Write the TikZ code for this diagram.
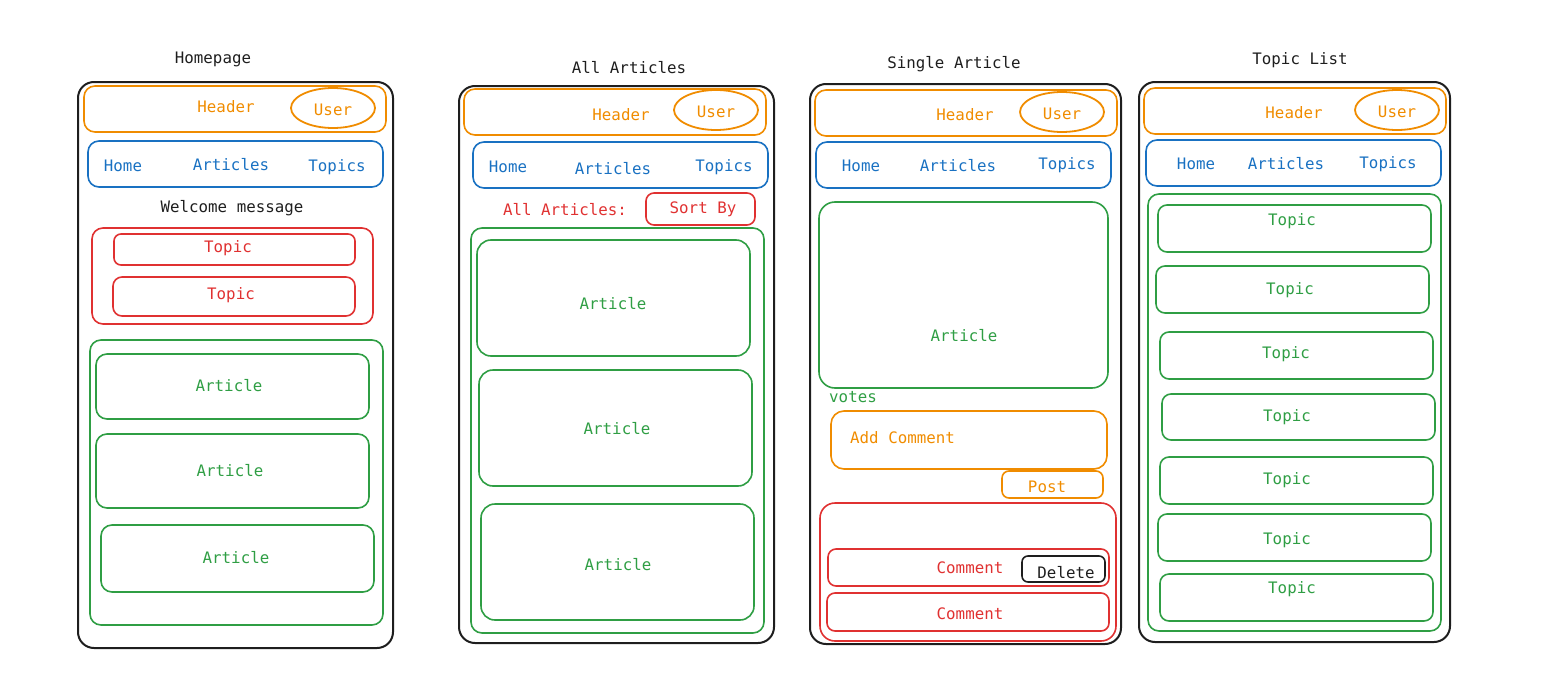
\documentclass[tikz,border=0pt]{standalone}
\usepackage{fontspec}
\setmainfont{DejaVu Sans Mono}
\usetikzlibrary{shapes.geometric}
\definecolor{cOr}{HTML}{F08C00}
\definecolor{cBl}{HTML}{1971C2}
\definecolor{cRd}{HTML}{E03131}
\definecolor{cGr}{HTML}{2F9E44}
\definecolor{cBk}{HTML}{1E1E1E}
\tikzset{
  box/.style={draw,rectangle,rounded corners=11pt,line width=1.6pt,inner sep=0pt},
  frame/.style={box,draw=cBk,line width=2pt,rounded corners=16pt},
  obox/.style={box,draw=cOr},
  bbox/.style={box,draw=cBl},
  rbox/.style={box,draw=cRd},
  gbox/.style={box,draw=cGr},
  kbox/.style={box,draw=cBk,rounded corners=6pt},
  ell/.style={ellipse,draw=cOr,line width=1.8pt,minimum width=84pt,minimum height=40pt,inner sep=0pt},
  txt/.style={inner sep=0pt,yshift=-1.5pt,font=\fontsize{15.8}{18}\selectfont},
  ttl/.style={txt,text=cBk},
  otx/.style={txt,text=cOr},
  btx/.style={txt,text=cBl},
  rtx/.style={txt,text=cRd},
  gtx/.style={txt,text=cGr},
  ktx/.style={txt,text=cBk}
}
\newcommand\bx[6][]{%
  \pgfmathsetmacro\bxw{#5-#3}\pgfmathsetmacro\bxh{#6-#4}%
  \pgfmathsetmacro\bxcx{(#3+#5)/2}\pgfmathsetmacro\bxcy{-(#4+#6)/2}%
  \node[#1,minimum width=\bxw pt,minimum height=\bxh pt] (#2) at (\bxcx,\bxcy) {};}
\begin{document}
\begin{tikzpicture}[x=1pt,y=1pt]
\useasboundingbox (0,0) rectangle (1557,-685);
% ================= Homepage
\node[ttl] (t1) at (213,-58) {Homepage};
\bx[frame]{f1}{78}{82}{393}{648}
\bx[obox]{h1}{84}{86}{386}{132}
\node[otx] (h1t) at (226,-105) {Header};
\node[ell] (u1) at (333,-108) {};
\node[otx] (u1t) at (333,-108) {User};
\bx[bbox]{n1}{88}{141}{383}{187}
\node[btx] (n1a) at (123,-164) {Home};
\node[btx] (n1b) at (231,-163) {Articles};
\node[btx] (n1c) at (337,-166) {Topics};
\node[ktx] (w1) at (232,-207) {Welcome message};
\bx[rbox]{r1}{92}{228}{373}{324}
\bx[rbox,rounded corners=7pt]{r1a}{114}{234}{355}{265}
\node[rtx] (r1at) at (228,-247) {Topic};
\bx[rbox,rounded corners=9pt]{r1b}{113}{277}{355}{316}
\node[rtx] (r1bt) at (231,-294) {Topic};
\bx[gbox]{g1}{90}{340}{383}{625}
\bx[gbox]{g1a}{96}{354}{369}{419}
\node[gtx] (g1at) at (229,-384) {Article};
\bx[gbox]{g1b}{96}{434}{369}{508}
\node[gtx] (g1bt) at (230,-469) {Article};
\bx[gbox]{g1c}{101}{525}{374}{592}
\node[gtx] (g1ct) at (236,-556) {Article};
% ================= All Articles
\node[ttl] (t2) at (629,-66) {All Articles};
\bx[frame]{f2}{459}{86}{774}{643}
\bx[obox]{h2}{464}{89}{766}{135}
\node[otx] (h2t) at (621,-113) {Header};
\node[ell] (u2) at (716,-110) {};
\node[otx] (u2t) at (716,-110) {User};
\bx[bbox]{n2}{473}{142}{768}{188}
\node[btx] (n2a) at (508,-165) {Home};
\node[btx] (n2b) at (613,-167) {Articles};
\node[btx] (n2c) at (724,-166) {Topics};
\node[rtx] (aa2) at (565,-208) {All Articles:};
\bx[rbox,rounded corners=8pt]{s2}{646}{193}{755}{225}
\node[rtx] (s2t) at (703,-208) {Sort By};
\bx[gbox]{g2}{471}{228}{764}{633}
\bx[gbox,rounded corners=14pt]{g2a}{477}{240}{750}{356}
\node[gtx] (g2at) at (613,-302) {Article};
\bx[gbox,rounded corners=14pt]{g2b}{479}{370}{752}{486}
\node[gtx] (g2bt) at (617,-427) {Article};
\bx[gbox,rounded corners=14pt]{g2c}{481}{504}{754}{620}
\node[gtx] (g2ct) at (618,-563) {Article};
% ================= Single Article
\node[ttl] (t3) at (954,-63) {Single Article};
\bx[frame]{f3}{810}{84}{1121}{644}
\bx[obox]{h3}{815}{90}{1117}{136}
\node[otx] (h3t) at (965,-113) {Header};
\node[ell] (u3) at (1062,-112) {};
\node[otx] (u3t) at (1062,-112) {User};
\bx[bbox]{n3}{816}{142}{1111}{188}
\node[btx] (n3a) at (861,-164) {Home};
\node[btx] (n3b) at (958,-164) {Articles};
\node[btx] (n3c) at (1067,-164) {Topics};
\bx[gbox,rounded corners=16pt]{a3}{819}{202}{1108}{388}
\node[gtx] (a3t) at (964,-334) {Article};
\node[gtx] (v3) at (853,-396) {votes};
\bx[obox,rounded corners=13pt]{c3}{831}{411}{1107}{469}
\node[otx,anchor=west] (c3t) at (850,-436) {Add Comment};
\bx[obox,rounded corners=7pt]{p3}{1002}{471}{1103}{498}
\node[otx] (p3t) at (1047,-485) {Post};
\bx[rbox,rounded corners=15pt]{r3}{820}{503}{1116}{641}
\bx[rbox,rounded corners=8pt]{r3a}{828}{549}{1109}{586}
\node[rtx] (r3at) at (970,-566) {Comment};
\bx[kbox]{d3}{1022}{556}{1105}{582}
\node[ktx] (d3t) at (1066,-571) {Delete};
\bx[rbox,rounded corners=8pt]{r3b}{827}{593}{1109}{631}
\node[rtx] (r3bt) at (970,-612) {Comment};
% ================= Topic List
\node[ttl] (t4) at (1300,-59) {Topic List};
\bx[frame]{f4}{1139}{82}{1450}{642}
\bx[obox]{h4}{1144}{88}{1446}{134}
\node[otx] (h4t) at (1294,-111) {Header};
\node[ell] (u4) at (1397,-110) {};
\node[otx] (u4t) at (1397,-110) {User};
\bx[bbox]{n4}{1146}{140}{1441}{186}
\node[btx] (n4a) at (1196,-162) {Home};
\node[btx] (n4b) at (1286,-162) {Articles};
\node[btx] (n4c) at (1388,-163) {Topics};
\bx[gbox]{g4}{1148}{194}{1441}{631}
\bx[gbox,rounded corners=9pt]{g4a}{1158}{205}{1431}{252}
\node[gtx] (g4at) at (1292,-220) {Topic};
\bx[gbox,rounded corners=9pt]{g4b}{1156}{266}{1429}{313}
\node[gtx] (g4bt) at (1290,-289) {Topic};
\bx[gbox,rounded corners=9pt]{g4c}{1160}{332}{1433}{379}
\node[gtx] (g4ct) at (1286,-353) {Topic};
\bx[gbox,rounded corners=9pt]{g4d}{1162}{394}{1435}{440}
\node[gtx] (g4dt) at (1287,-416) {Topic};
\bx[gbox,rounded corners=9pt]{g4e}{1160}{457}{1433}{504}
\node[gtx] (g4et) at (1287,-479) {Topic};
\bx[gbox,rounded corners=9pt]{g4f}{1158}{514}{1431}{561}
\node[gtx] (g4ft) at (1287,-539) {Topic};
\bx[gbox,rounded corners=9pt]{g4g}{1160}{574}{1433}{621}
\node[gtx] (g4gt) at (1292,-588) {Topic};
\end{tikzpicture}
\end{document}
